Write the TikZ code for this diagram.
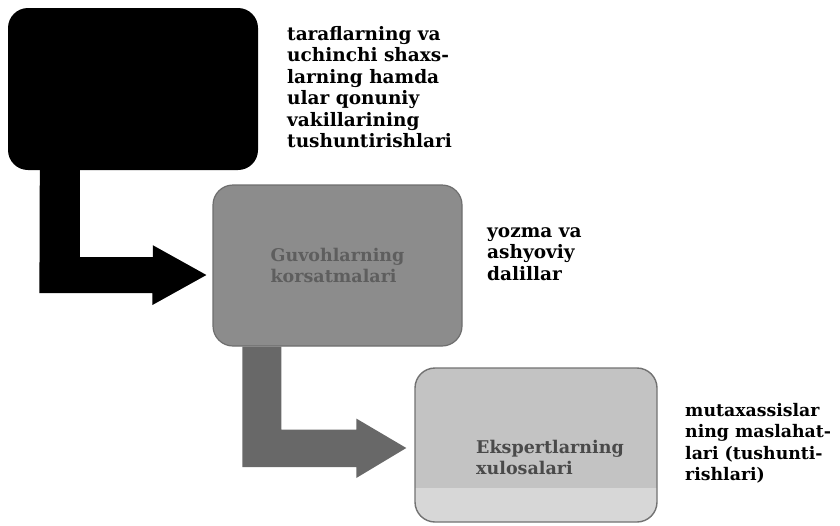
\documentclass[tikz,border=0pt]{standalone}
\usepackage{fontspec}
\setmainfont{DejaVu Serif}
\usetikzlibrary{calc}
\definecolor{boxgray}{HTML}{8C8C8C}
\definecolor{boxgrayline}{HTML}{6E6E6E}
\definecolor{arrowgray}{HTML}{686868}
\definecolor{lightbox}{HTML}{C3C3C3}
\definecolor{lightband}{HTML}{D7D7D7}
\definecolor{lightline}{HTML}{727272}
\definecolor{graytext}{HTML}{5E5E5E}
\definecolor{darktext}{HTML}{4A4A4A}
\tikzset{
  sidetext/.style={anchor=north west, inner sep=0pt, align=left,
    font=\bfseries\fontsize{18.5}{21.5}\selectfont},
  boxtext/.style={align=left, inner sep=0pt,
    font=\bfseries\fontsize{17.5}{21}\selectfont},
  roundbox/.style={rectangle, rounded corners=20pt, inner sep=0pt}
}
\begin{document}
\begin{tikzpicture}[x=1pt,y=-1pt]
\useasboundingbox (0,0) rectangle (840,525);
% boxes
\node[roundbox, fill=black, minimum width=250pt, minimum height=162pt] (b1) at (133,89) {};
\node[roundbox, fill=boxgray, draw=boxgrayline, line width=1.2pt,
      minimum width=249pt, minimum height=161pt, boxtext, text=graytext] (b2) at (337.5,265.5)
      {Guvohlarning\\korsatmalari};
\node[roundbox, fill=lightbox, draw=lightline, line width=1.4pt,
      minimum width=242pt, minimum height=154pt,
      path picture={\fill[lightband, sharp corners] (path picture bounding box.south west) rectangle ($(path picture bounding box.east)+(0,43)$);}] (b3) at (536,445) {};
\node[boxtext, text=darktext] (b3t) at (550,457) {Ekspertlarning\\xulosalari};
% arrow tips
\coordinate (a1s) at ($(b1.south west)+(32,0)$);
\coordinate (t1) at ($(b2.west)+(-6,9.5)$);
\coordinate (a2s) at ($(b2.south west)+(30,0)$);
\coordinate (t2) at ($(b3.west)+(-8,3)$);
% black arrow
\fill[black] (a1s) -- ++(40,0) -- ++(0,87) -- ++(73,0) -- ++(0,-12) -- (t1)
  -- ++(-54,30) -- ++(0,-12) -- ++(-113,0) -- cycle;
% gray arrow
\fill[arrowgray] (a2s) -- ++(39,0) -- ++(0,83) -- ++(75,0) -- ++(0,-11) -- (t2)
  -- ++(-50,30) -- ++(0,-11) -- ++(-114,0) -- cycle;
% side texts
\node[sidetext] (s1) at (287,26) {taraflarning va\\uchinchi shaxs-\\larning hamda\\ular qonuniy\\vakillarining\\tushuntirishlari};
\node[sidetext] (s2) at (487,227) {yozma va\\ashyoviy\\dalillar};
\node[sidetext, font=\bfseries\fontsize{17.3}{21.5}\selectfont] (s3) at (685,403) {mutaxassislar\\ning maslahat-\\lari (tushunti-\\rishlari)};
\end{tikzpicture}
\end{document}
